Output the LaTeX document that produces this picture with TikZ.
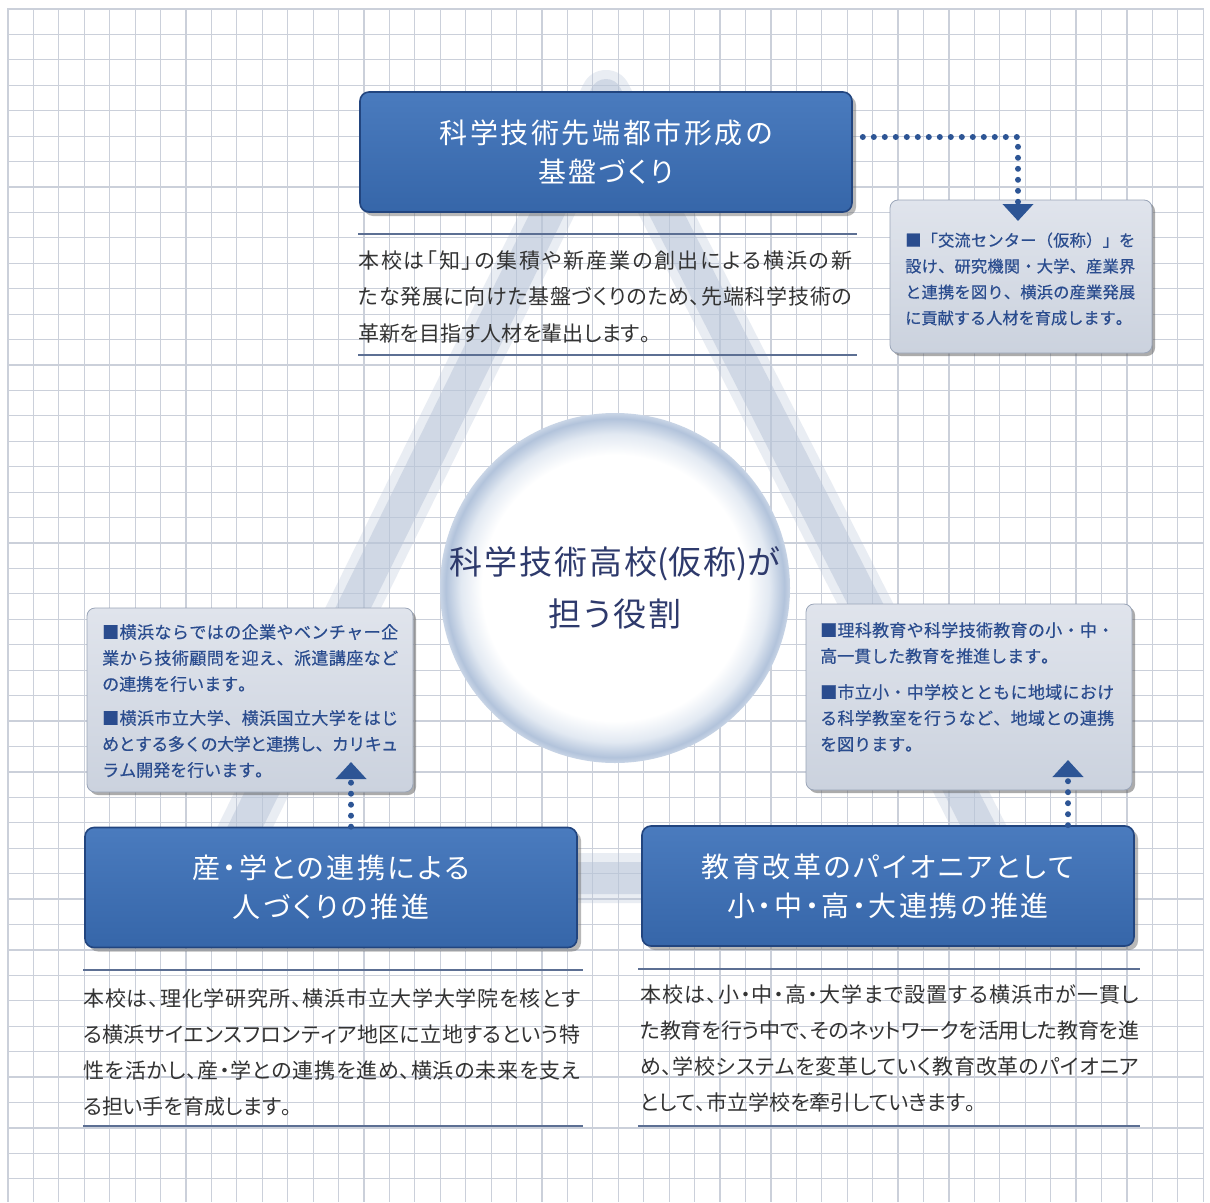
\documentclass[tikz,border=0pt]{standalone}
\usepackage{fontspec}
\newfontfamily\jp{Noto Sans CJK JP}
\newfontfamily\jpp[RawFeature=+palt]{Noto Sans CJK JP}
\newfontfamily\jpm[FakeBold=0.5]{Noto Sans CJK JP}
\usetikzlibrary{arrows.meta,shadows,calc}
% inter-character glue for CJK text (used for justified lines and letter spacing)
\newcount\jc
\jc="3000
\loop \XeTeXcharclass\jc=7 \advance\jc by 1 \ifnum\jc<"A000 \repeat
\jc="FF00
\loop \XeTeXcharclass\jc=7 \advance\jc by 1 \ifnum\jc<"FFF0 \repeat
\XeTeXcharclass"25A0=7
\newskip\jsk
\jsk=0pt
\XeTeXinterchartoks 7 7 = {\hskip\jsk}
\XeTeXinterchartokenstate=1
\newlength\jw
\newcommand\jl[1]{\makebox[\jw][s]{#1}}
\definecolor{gridc}{HTML}{CBD0DA}
\definecolor{triC}{HTML}{B9C5D8}
\definecolor{blueL}{HTML}{4A7BBE}
\definecolor{blueD}{HTML}{3666A9}
\definecolor{bluedk}{HTML}{22457F}
\definecolor{lightL}{HTML}{E0E4EC}
\definecolor{lightD}{HTML}{CBD2DE}
\definecolor{lightdk}{HTML}{9AA5B8}
\definecolor{navytext}{HTML}{2A4C8E}
\definecolor{dotc}{HTML}{2D5595}
\definecolor{paratext}{HTML}{333333}
\definecolor{circtext}{HTML}{2E3A6C}
\definecolor{rulec}{HTML}{5C6F93}
\definecolor{ringA}{HTML}{E2E9F2}
\definecolor{ringB}{HTML}{B2C3DB}
\definecolor{ringC}{HTML}{C9D5E6}
\pgfdeclareradialshading{ringshade}{\pgfpoint{0bp}{0bp}}{color(0bp)=(white); color(19bp)=(white); color(22bp)=(ringA); color(24.2bp)=(ringB); color(25bp)=(ringC); color(50bp)=(ringC)}
\tikzset{
  gridline/.style={draw=gridc, line width=1.2pt},
  tri/.style={draw=triC, line join=round},
  bluebox/.style={rectangle, rounded corners=9pt, draw=bluedk, line width=1.6pt,
    top color=blueL, bottom color=blueD, text=white, align=center,
    font={\jpp\fontsize{28}{39}\selectfont\jsk=2.6pt},
    minimum width=492pt, minimum height=120pt,
    drop shadow={shadow xshift=4pt, shadow yshift=-4pt, fill=black!55, opacity=.5}},
  lightbox/.style={rectangle, rounded corners=8pt, draw=lightdk, line width=0.8pt,
    top color=lightL, bottom color=lightD,
    drop shadow={shadow xshift=3pt, shadow yshift=-3pt, fill=black!60, opacity=.55}},
  para/.style={anchor=west, inner sep=0pt, align=left, text=paratext},
  boxtext/.style={anchor=west, inner sep=0pt, align=left, text=navytext},
  rulel/.style={draw=rulec, line width=1.4pt},
  dotline/.style={draw=dotc, line width=6pt, line cap=round, dash pattern=on 0pt off 11pt,
    -{Triangle[width=30pt,length=17pt]}},
}
\begin{document}
\begin{tikzpicture}[x=1pt,y=-1pt]
\useasboundingbox (0,0) rectangle (1210,1202);
\fill[white] (0,0) rectangle (1210,1202);
% grid
\foreach \i in {0,...,47} \draw[gridline] ({8+25.43*\i},8) -- ({8+25.43*\i},1202);
\foreach \j in {0,...,46} \draw[gridline] (8,{9+25.43*\j}) -- (1203,{9+25.43*\j});
% brush triangle
\draw[tri, line width=50pt, draw opacity=.3] (606,95) -- (220,878) -- (1005,878) -- cycle;
\draw[tri, line width=32pt, draw opacity=.5] (606,95) -- (220,878) -- (1005,878) -- cycle;
% centre circle
\node[circle, shading=ringshade, minimum size=350pt, inner sep=0pt, text=circtext,
  align=center, font={\jpp\fontsize{33}{52}\selectfont\jsk=2pt}] (hub) at (615,588)
  {科学技術高校(仮称)が\\担う役割};
% top paragraph
\draw[rulel] (358,234) -- (857,234);
\draw[rulel] (358,355) -- (857,355);
\node[para, font={\jpp\fontsize{21}{36.5}\selectfont\setlength\jw{494pt}\jsk=0pt plus 3pt minus 1.5pt}] (toppara) at (358,296.5)
  {\jl{本校は「知」の集積や新産業の創出による横浜の新}\\
   \jl{たな発展に向けた基盤づくりのため、先端科学技術の}\\
   革新を目指す人材を輩出します。};
% bottom-left paragraph
\draw[rulel] (83,970) -- (583,970);
\draw[rulel] (83,1126) -- (583,1126);
\node[para, font={\jpp\fontsize{21}{36.3}\selectfont\setlength\jw{497pt}\jsk=0pt plus 3pt minus 1.5pt}] (blpara) at (83,1052.5)
  {\jl{本校は、理化学研究所、横浜市立大学大学院を核とす}\\
   \jl{る横浜サイエンスフロンティア地区に立地するという特}\\
   \jl{性を活かし、産・学との連携を進め、横浜の未来を支え}\\
   る担い手を育成します。};
% bottom-right paragraph
\draw[rulel] (638,969) -- (1140,969);
\draw[rulel] (638,1126) -- (1140,1126);
\node[para, font={\jpp\fontsize{21}{35.7}\selectfont\setlength\jw{499pt}\jsk=0pt plus 3pt minus 1.5pt}] (brpara) at (640,1048.5)
  {\jl{本校は、小・中・高・大学まで設置する横浜市が一貫し}\\
   \jl{た教育を行う中で、そのネットワークを活用した教育を進}\\
   \jl{め、学校システムを変革していく教育改革のパイオニア}\\
   として、市立学校を牽引していきます。};
% blue title boxes
\node[bluebox] (topbox) at (606,152) {科学技術先端都市形成の\\基盤づくり};
\node[bluebox] (blbox) at (331,887.5) {産・学との連携による\\人づくりの推進};
\node[bluebox] (brbox) at (888,886) {教育改革のパイオニアとして\\小・中・高・大連携の推進};
% light boxes
\node[lightbox, minimum width=262pt, minimum height=153pt] (rtbox) at (1021,276.5) {};
\node[boxtext, font={\jpm\fontsize{16.2}{25.9}\selectfont\setlength\jw{230pt}\jsk=0pt plus 3pt minus 1.5pt}] (rttext) at (905,279)
  {\jl{■「交流センター（仮称）」を}\\
   \jl{設け、研究機関・大学、産業界}\\
   \jl{と連携を図り、横浜の産業発展}\\
   に貢献する人材を育成します。};
\node[lightbox, minimum width=326pt, minimum height=184pt] (lbbox) at (250,700) {};
\node[boxtext, font={\jpm\fontsize{17}{26}\selectfont\setlength\jw{296pt}\jsk=0pt plus 3pt minus 1.5pt}] (lbtext) at (102,701)
  {\jl{■横浜ならではの企業やベンチャー企}\\
   \jl{業から技術顧問を迎え、派遣講座など}\\
   の連携を行います。\\[8pt]
   \jl{■横浜市立大学、横浜国立大学をはじ}\\
   \jl{めとする多くの大学と連携し、カリキュ}\\
   ラム開発を行います。};
\node[lightbox, minimum width=326pt, minimum height=186pt] (rbbox) at (969,697) {};
\node[boxtext, font={\jpm\fontsize{17}{26}\selectfont\setlength\jw{294pt}\jsk=0pt plus 3pt minus 1.5pt}] (rbtext) at (820,687)
  {\jl{■理科教育や科学技術教育の小・中・}\\
   高一貫した教育を推進します。\\[10pt]
   \jl{■市立小・中学校とともに地域におけ}\\
   \jl{る科学教室を行うなど、地域との連携}\\
   を図ります。};
% dotted connectors
\coordinate (tipRT) at (1018,221);
\coordinate (tipLB) at (351,762);
\coordinate (tipRB) at (1068,760);
\draw[dotline] ($(topbox.east)+(10,-15)$) -| (tipRT);
\draw[dotline] (blbox.north -| tipLB) -- (tipLB);
\draw[dotline] (brbox.north -| tipRB) -- (tipRB);
\end{tikzpicture}
\end{document}
